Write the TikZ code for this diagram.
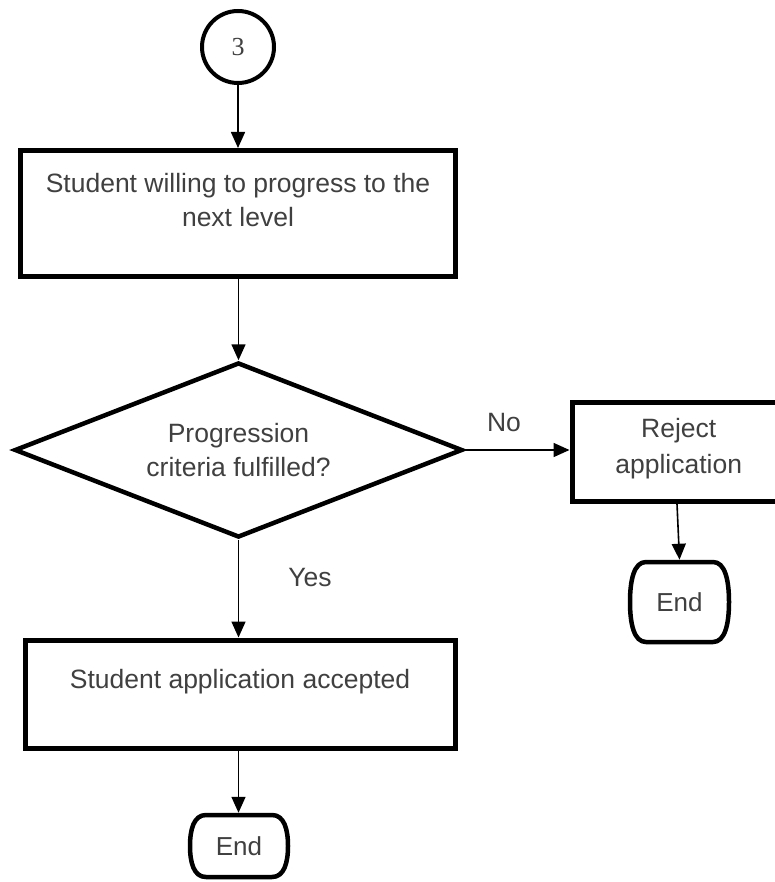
\documentclass[tikz,border=0pt]{standalone}
\usepackage{fontspec}
\setmainfont{Liberation Sans}
\newfontfamily\numfont{Liberation Serif}
\usetikzlibrary{arrows.meta,calc,shapes.geometric}
\definecolor{txt}{RGB}{64,64,64}
\tikzset{
  boxnode/.style={draw, line width=5pt, inner sep=0pt, text=txt},
  conn/.style={line width=1.6pt, -{Triangle[length=16pt,width=14pt]}},
  termnode/.style={line width=4.5pt, inner sep=0pt, text=txt, font=\fontsize{26}{30}\selectfont},
  termline/.style={line width=4.5pt, line join=round},
  lbl/.style={text=txt, font=\fontsize{26.5}{30}\selectfont, inner sep=0pt},
  decnode/.style={draw, diamond, line width=4.5pt, inner sep=0pt, shape aspect=2.56,
    minimum width=448pt, minimum height=175pt, text=txt, align=center,
    font=\fontsize{26.5}{33.3}\selectfont},
  startnode/.style={draw, circle, line width=4pt, minimum size=72pt, inner sep=0pt,
    text=txt, font=\numfont\fontsize{26}{30}\selectfont}
}
\newcommand\termshape[3]{%
  \draw[termline]
   ($(#1.center)+(-#2+16,-#3)$) -- ($(#1.center)+(#2-16,-#3)$)
   .. controls ($(#1.center)+(#2-4,-#3)$) and ($(#1.center)+(#2,-#3*0.55)$) .. ($(#1.center)+(#2,0)$)
   .. controls ($(#1.center)+(#2,#3*0.55)$) and ($(#1.center)+(#2-4,#3)$) .. ($(#1.center)+(#2-16,#3)$)
   -- ($(#1.center)+(-#2+16,#3)$)
   .. controls ($(#1.center)+(-#2+4,#3)$) and ($(#1.center)+(-#2,#3*0.55)$) .. ($(#1.center)+(-#2,0)$)
   .. controls ($(#1.center)+(-#2,-#3*0.55)$) and ($(#1.center)+(-#2+4,-#3)$) .. cycle;}
\begin{document}
\begin{tikzpicture}[x=1pt,y=-1pt]
\useasboundingbox (0,0) rectangle (774,882);
\fill[white] (0,0) rectangle (774,882);

\node[startnode] (c3) at (238,47) {3};

\node[boxnode] (b1) at (238,213.5) {\begin{minipage}[c][126pt][t]{434.5pt}\centering\fontsize{26.5}{33.5}\selectfont\rule{0pt}{42.2pt}Student willing to progress to the\\ next level\end{minipage}};

\node[decnode] (dia) at (238.5,450) {Progression\\criteria fulfilled?};

\node[boxnode, anchor=west] (rej) at (569.5,451.75) {\begin{minipage}[c][99.5pt][t]{213.5pt}\centering\fontsize{26.5}{36}\selectfont\rule{0pt}{35pt}Reject\\ application\end{minipage}};

\node[termnode, minimum width=99pt, minimum height=80pt] (endR) at (679.5,602) {End};
\termshape{endR}{49.5}{40}

\node[boxnode] (b2) at (240,694.25) {\begin{minipage}[c][108.5pt][t]{430pt}\centering\fontsize{26.5}{33.5}\selectfont\rule{0pt}{48pt}Student application accepted\end{minipage}};

\node[termnode, minimum width=98pt, minimum height=62pt] (endB) at (239,846) {End};
\termshape{endB}{49}{31}

\node[lbl] (no) at (504,423) {No};
\node[lbl] (yes) at (310,577.5) {Yes};

\draw[conn] (c3.south) -- (c3.south |- b1.north);
\draw[conn] (b1.south -| dia.north) -- (dia.north);
\draw[conn] (dia.east) -- (dia.east -| rej.west);
\draw[conn] (dia.south) -- (dia.south |- b2.north);
\draw[conn] (rej.south -| 677,0) -- (endR.north);
\draw[conn] (b2.south -| dia.south) -- (endB.north -| dia.south);
\end{tikzpicture}
\end{document}
